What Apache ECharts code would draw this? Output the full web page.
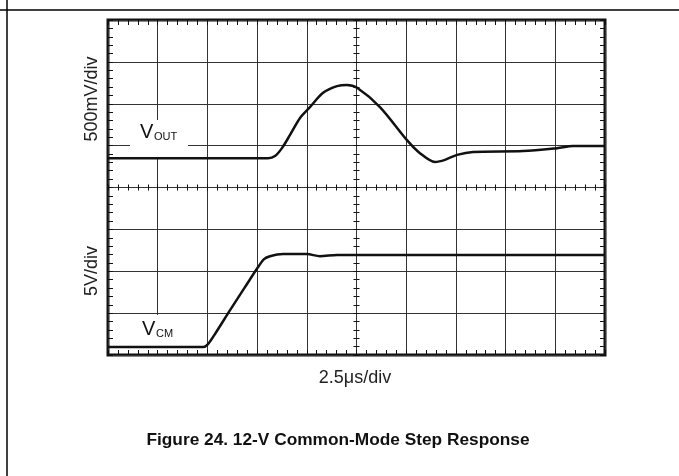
<!DOCTYPE html>
<html>
<head>
<meta charset="utf-8">
<script src="https://cdn.jsdelivr.net/npm/echarts@6/dist/echarts.min.js"></script>
<style>
  html, body { margin: 0; padding: 0; background: #fff; }
  #chart { width: 679px; height: 476px; }
</style>
</head>
<body>
<div id="chart"></div>
<script>
// time axis: 2.5 us per division, 10 divisions
const timeMin = 0
const timeMax = 25
const timeStep = 2.5
// vertical axis in screen divisions (0 = bottom, 8 = top)
const divMin = 0
const divMax = 8

// V_OUT trace (upper half, 500 mV/div)
const voutTime = [0, 8.05, 8.4, 8.75, 9.15, 9.66, 10.16, 10.82, 11.52, 12.02, 12.53, 13.68, 15.04, 15.69, 16.45, 16.95, 17.56, 18.36, 20.88, 22.59, 23.39, 25]
const voutDiv = [4.70, 4.70, 4.75, 4.94, 5.25, 5.66, 5.92, 6.26, 6.42, 6.45, 6.38, 5.92, 5.13, 4.82, 4.61, 4.66, 4.78, 4.85, 4.87, 4.94, 4.99, 4.99]

// V_CM trace (lower half, 5 V/div)
const vcmTime = [0, 4.78, 5.03, 5.38, 6.14, 6.89, 7.55, 7.85, 8.15, 8.8, 10.0, 10.66, 11.52, 12.68, 25]
const vcmDiv = [0.19, 0.19, 0.26, 0.50, 1.07, 1.62, 2.10, 2.29, 2.36, 2.41, 2.41, 2.36, 2.39, 2.39, 2.39]

const font = 'Liberation Sans, Arial, sans-serif'
const rect = { left: 108, top: 20, width: 497, height: 335 }

const chart = echarts.init(document.getElementById('chart'))

function pairs(xs, ys) {
	return xs.map((x, i) => [x, ys[i]])
}

// axis that only draws ticks (no line, no labels)
function tickAxis(gridIndex, position, inside, len, offset, isX) {
	return {
		type: 'value',
		gridIndex,
		position,
		offset: offset || 0,
		min: isX ? timeMin : divMin,
		max: isX ? timeMax : divMax,
		interval: isX ? timeStep : 1,
		z: 5,
		axisLine: { show: false, onZero: false },
		axisTick: { show: true, inside, length: len, lineStyle: { color: '#111', width: 1 } },
		minorTick: { show: true, splitNumber: 5, length: len, lineStyle: { color: '#111', width: 1 } },
		axisLabel: { show: false },
		splitLine: { show: false }
	}
}

const option = {
	animation: false,
	backgroundColor: '#fff',
	grid: [
		Object.assign({ show: true, borderColor: '#111', borderWidth: 3, backgroundColor: 'transparent' }, rect),
		Object.assign({}, rect),
		Object.assign({}, rect)
	],
	xAxis: [
		{
			type: 'value',
			gridIndex: 0,
			min: timeMin,
			max: timeMax,
			interval: timeStep,
			z: 0,
			axisLine: { show: false, onZero: false },
			axisTick: { show: false },
			axisLabel: { show: false },
			splitLine: { show: true, lineStyle: { color: '#333', width: 1 } }
		},
		tickAxis(1, 'bottom', true, 5, 0, true),
		tickAxis(1, 'top', true, 5, 0, true),
		tickAxis(2, 'bottom', true, 3, -167.5, true),
		tickAxis(2, 'bottom', false, 3, -167.5, true)
	],
	yAxis: [
		{
			type: 'value',
			gridIndex: 0,
			min: divMin,
			max: divMax,
			interval: 1,
			z: 0,
			axisLine: { show: false, onZero: false },
			axisTick: { show: false },
			axisLabel: { show: false },
			splitLine: { show: true, lineStyle: { color: '#333', width: 1 } }
		},
		tickAxis(1, 'left', true, 5, 0, false),
		tickAxis(1, 'right', true, 5, 0, false),
		tickAxis(2, 'left', true, 3, -248.5, false),
		tickAxis(2, 'left', false, 3, -248.5, false)
	],
	series: [
		{
			name: 'VOUT',
			type: 'line',
			xAxisIndex: 0,
			yAxisIndex: 0,
			data: pairs(voutTime, voutDiv),
			showSymbol: false,
			smooth: 0.3,
			z: 6,
			lineStyle: { color: '#111', width: 2.5 }
		},
		{
			name: 'VCM',
			type: 'line',
			xAxisIndex: 0,
			yAxisIndex: 0,
			data: pairs(vcmTime, vcmDiv),
			showSymbol: false,
			smooth: 0.3,
			z: 6,
			lineStyle: { color: '#111', width: 2.5 }
		}
	],
	graphic: [
		// page frame lines
		{ type: 'line', z: 10, shape: { x1: 7, y1: 0, x2: 7, y2: 476 }, style: { stroke: '#000', lineWidth: 1.5 } },
		{ type: 'line', z: 10, shape: { x1: 0, y1: 10, x2: 679, y2: 10 }, style: { stroke: '#000', lineWidth: 1.5 } },
		// label backgrounds that hide the graticule
		{ type: 'rect', z: 1, shape: { x: 130, y: 120, width: 58, height: 37 }, style: { fill: '#fff' } },
		{ type: 'rect', z: 1, shape: { x: 111, y: 315, width: 74, height: 37 }, style: { fill: '#fff' } },
		// trace labels
		{ type: 'text', z: 7, x: 140, y: 132.5, style: { text: 'V', font: '20px ' + font, fill: '#111', textVerticalAlign: 'middle' } },
		{ type: 'text', z: 7, x: 154, y: 137, style: { text: 'OUT', font: '11px ' + font, fill: '#111', textVerticalAlign: 'middle' } },
		{ type: 'text', z: 7, x: 142, y: 329, style: { text: 'V', font: '20px ' + font, fill: '#111', textVerticalAlign: 'middle' } },
		{ type: 'text', z: 7, x: 156, y: 334, style: { text: 'CM', font: '11px ' + font, fill: '#111', textVerticalAlign: 'middle' } },
		// scale labels
		{ type: 'text', z: 7, x: 92, y: 99, rotation: Math.PI / 2, style: { text: '500mV/div', font: '18px ' + font, fill: '#222', textAlign: 'center', textVerticalAlign: 'middle' } },
		{ type: 'text', z: 7, x: 92, y: 271, rotation: Math.PI / 2, style: { text: '5V/div', font: '18px ' + font, fill: '#222', textAlign: 'center', textVerticalAlign: 'middle' } },
		{ type: 'text', z: 7, x: 355, y: 378, style: { text: '2.5μs/div', font: '18px ' + font, fill: '#222', textAlign: 'center', textVerticalAlign: 'middle' } },
		// figure caption
		{ type: 'text', z: 7, x: 338, y: 440, style: { text: 'Figure 24. 12-V Common-Mode Step Response', font: 'bold 17.3px ' + font, fill: '#111', textAlign: 'center', textVerticalAlign: 'middle' } }
	]
}

chart.setOption(option)
</script>
</body>
</html>
